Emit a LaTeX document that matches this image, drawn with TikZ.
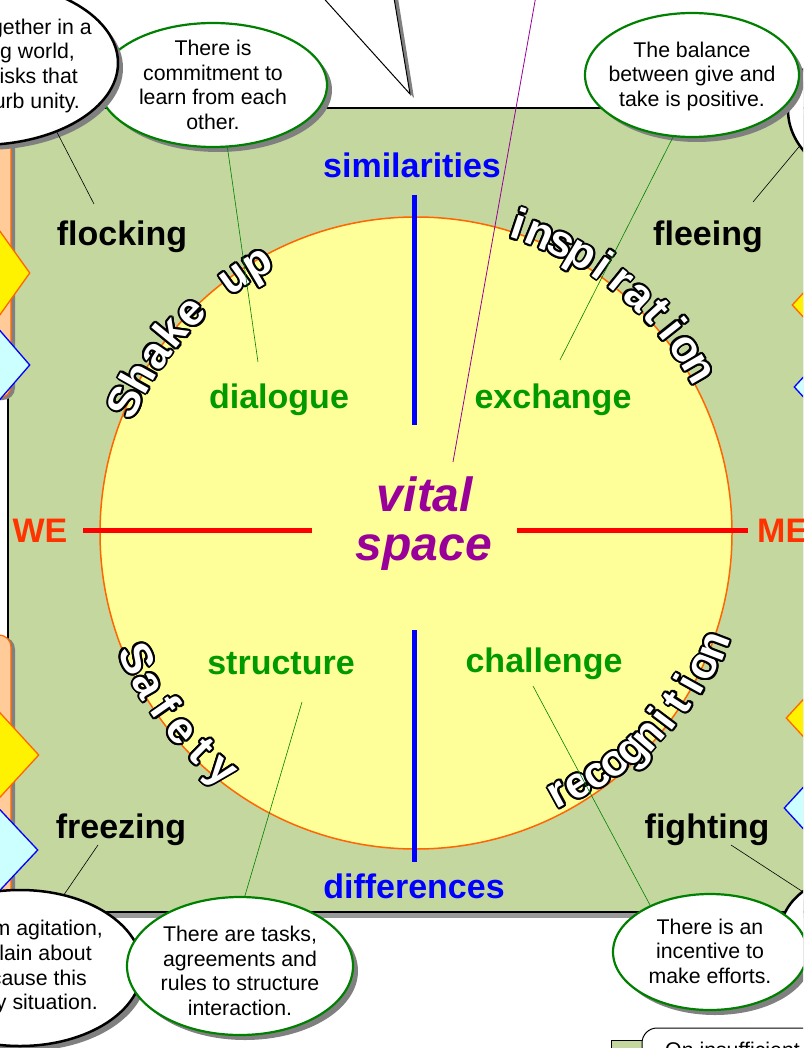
\documentclass[tikz,border=0pt]{standalone}
\usepackage{fontspec}
\setmainfont{Liberation Sans}
\usetikzlibrary{shapes.geometric,shadows,calc}
\definecolor{bggreen}{RGB}{196,215,158}
\definecolor{circfill}{RGB}{255,255,153}
\definecolor{orangeline}{RGB}{255,102,0}
\definecolor{tabfill}{RGB}{255,204,153}
\definecolor{diamblue}{RGB}{204,255,255}
\definecolor{txtgreen}{RGB}{0,153,0}
\definecolor{ellgreen}{RGB}{0,128,0}
\definecolor{wecolor}{RGB}{255,51,0}
\definecolor{vitalpurple}{RGB}{153,0,153}
\definecolor{shadowgray}{RGB}{128,128,128}

\newcommand\curvfont{\bfseries\fontsize{44}{44}\selectfont}
\newcommand\calltextfont{\fontsize{21.3}{24.5}\selectfont}
\newcommand\labelfont{\fontsize{34}{40}\selectfont\bfseries}

\newlength\arcLw
\newlength\arcTot
% #1 id, #2 start angle, #3 end angle, #4 start radius, #5 end radius, #6 comma list of letters
\newcommand\arcword[6]{%
  \global\arcTot=0pt
  \gdef\arcN{0}%
  \foreach \ch in {#6}{%
    \settowidth\arcLw{\curvfont\ch}%
    \global\advance\arcTot by \arcLw
    \xdef\arcN{\the\numexpr\arcN+1\relax}%
  }%
  \pgfmathsetmacro\arcR{(#4+#5)/2}%
  \pgfmathsetmacro\arcL{abs(#3-#2)*pi/180*\arcR}%
  \pgfmathsetmacro\arcGap{(\arcL-\arcTot)/(\arcN-1)}%
  \pgfmathsetmacro\arcSign{(#3>#2)?1:-1}%
  \pgfmathsetmacro\arcRot{(#3>#2)?90:-90}%
  \gdef\arcCum{0}%
  \foreach \ch [count=\ci] in {#6}{%
    \settowidth\arcLw{\curvfont\ch}%
    \pgfmathsetmacro\arcMid{\arcCum+\arcLw/2}%
    \pgfmathsetmacro\arcAng{#2+\arcSign*\arcMid/\arcR*180/pi}%
    \pgfmathsetmacro\arcRad{#4+(#5-#4)*\arcMid/\arcL}%
    \pgfmathsetmacro\arcNext{\arcCum+\arcLw+\arcGap}%
    \xdef\arcCum{\arcNext}%
    \foreach \dx/\dy [count=\di] in {2/0,-2/0,0/2,0/-2,1.41/1.41,1.41/-1.41,-1.41/1.41,-1.41/-1.41,1.85/0.77,1.85/-0.77,-1.85/0.77,-1.85/-0.77,0.77/1.85,0.77/-1.85,-0.77/1.85,-0.77/-1.85}{%
      \node[arcletter, text=black, rotate=\arcAng+\arcRot] (#1-\ci-o\di) at ($(C)+(\arcAng:\arcRad)+(\dx,\dy)$) {\ch};
    }%
    \node[arcletter, text=white, rotate=\arcAng+\arcRot] (#1-\ci) at ($(C)+(\arcAng:\arcRad)$) {\ch};
  }%
}

\tikzset{
  arcletter/.style={font=\curvfont, inner sep=0pt, anchor=base},
  shadowed/.style={drop shadow={shadow xshift=5pt,shadow yshift=-5pt,fill=shadowgray,opacity=1}},
  greenell/.style={ellipse, draw=ellgreen, line width=2.2pt, fill=white, inner sep=0pt, shadowed},
  blackell/.style={ellipse, draw=black, line width=2.5pt, fill=white, inner sep=0pt, shadowed},
  calltext/.style={font=\calltextfont, align=center, inner sep=0pt},
  fragtext/.style={font=\calltextfont, anchor=base east, inner sep=0pt},
  biglabel/.style={font=\labelfont, anchor=base, inner sep=0pt},
  blackconn/.style={draw=black, line width=0.6pt},
  greenconn/.style={draw=ellgreen, line width=0.6pt},
  axisblue/.style={draw=blue, line width=5pt},
  axisred/.style={draw=red, line width=5pt},
  tabbox/.style={fill=tabfill, draw=orangeline, line width=1.2pt, rounded corners=12pt, drop shadow={shadow xshift=4pt,shadow yshift=-2pt,fill=shadowgray,opacity=1}},
  ydiam/.style={diamond, inner sep=0pt, fill=yellow, draw=orangeline, line width=1.3pt},
  bdiam/.style={diamond, inner sep=0pt, fill=diamblue, draw=blue, line width=1.3pt},
}

\begin{document}
\begin{tikzpicture}[x=1pt,y=-1pt]
\useasboundingbox (0,0) rectangle (803,1048);
\clip (0,0) rectangle (803,1048);
\fill[white] (0,0) rectangle (803,1048);

% tail of the top callout
\fill[shadowgray] (322,-8) -- (414,98) -- (397,-8) -- cycle;
\draw[fill=white, line width=1pt] (318,-8) -- (410,94) -- (393,-8) -- cycle;

% main field
\path[fill=bggreen, draw=black, line width=1.2pt, drop shadow={shadow xshift=4pt, shadow yshift=-6pt, fill=shadowgray!80, opacity=1}] (8,108) rectangle (830,912);

% circle
\coordinate (C) at (416,533);
\node[circle, minimum size=632pt, fill=circfill, draw=orangeline, line width=1.5pt, inner sep=0pt] (circ) at (C) {};

% axes
\coordinate (vt1) at (414,195); \coordinate (vt2) at (414,425);
\coordinate (vb1) at (414,630); \coordinate (vb2) at (414,862);
\coordinate (hl1) at (83,530);  \coordinate (hl2) at (312,530);
\coordinate (hr1) at (517,530); \coordinate (hr2) at (748,530);
\draw[axisblue] (vt1) -- (vt2);
\draw[axisblue] (vb1) -- (vb2);
\draw[axisred] (hl1) -- (hl2);
\draw[axisred] (hr1) -- (hr2);

% labels
\node[biglabel, text=blue] (sim) at (412,178) {similarities};
\node[biglabel, text=blue] (dif) at (414,898) {differences};
\node[biglabel, text=wecolor] (we) at (40,542) {WE};
\node[biglabel, text=wecolor, anchor=base west] (me) at (757,542) {ME};
\node[biglabel] (flock) at (122,246) {flocking};
\node[biglabel] (flee) at (708,246) {fleeing};
\node[biglabel] (freeze) at (121,838) {freezing};
\node[biglabel] (fight) at (707,838) {fighting};
\node[biglabel, text=txtgreen] (dia) at (279,408) {dialogue};
\node[biglabel, text=txtgreen] (exc) at (553,408) {exchange};
\node[biglabel, text=txtgreen] (str) at (281,674) {structure};
\node[biglabel, text=txtgreen] (cha) at (544,672) {challenge};
\node[font=\fontsize{48}{49}\selectfont\bfseries\itshape, text=vitalpurple, anchor=base, inner sep=0pt] (vital) at (425,511) {vital};
\node[font=\fontsize{48}{49}\selectfont\bfseries\itshape, text=vitalpurple, anchor=base, inner sep=0pt] (space) at (424,560) {space};

% curved words
\begin{scope}[y=1pt]
\arcword{wsh}{155.7}{120.5}{304}{300}{S,h,a,k,e,\ ,u,p}
\arcword{win}{71.6}{30.2}{310}{314}{i,n,s,p,i,r,a,t,i,o,n}
\arcword{wsa}{204.2}{230.7}{321}{319}{S,a,f,e,t,y}
\arcword{wre}{-61.4}{-20.8}{310}{332}{r,e,c,o,g,n,i,t,i,o,n}
\end{scope}

% purple connector from the top callout
\coordinate (p1) at (537,-10);
\coordinate (p2) at (453,462);
\draw[draw=vitalpurple, line width=0.8pt] (p1) -- (p2);

% left tabs
\path[tabbox] (-40,90) rectangle (11,398);
\path[tabbox] (-40,635) rectangle (11,1100);
\node[ydiam, minimum width=90pt, minimum height=126pt] (yd1) at (-15,273) {};
\node[bdiam, minimum width=90pt, minimum height=104pt] (bd1) at (-15,365) {};
\node[ydiam, minimum width=90pt, minimum height=98pt] (yd2) at (-6,755) {};
\node[bdiam, minimum width=90pt, minimum height=96pt] (bd2) at (-7,850) {};
% right diamonds
\node[ydiam, minimum width=90pt, minimum height=98pt] (yd3) at (837,305) {};
\node[bdiam, minimum width=90pt, minimum height=98pt] (bd3) at (839,387) {};
\node[ydiam, minimum width=90pt, minimum height=98pt] (yd4) at (831,718) {};
\node[bdiam, minimum width=90pt, minimum height=98pt] (bd4) at (829,808) {};

% callout ellipses
\node[greenell, minimum width=228pt, minimum height=124pt] (E1) at (213,85) {};
\node[blackell, minimum width=276pt, minimum height=164pt] (B1) at (-20,63) {};
\node[blackell, minimum width=224pt, minimum height=160pt] (B2) at (900,110) {};
\node[greenell, minimum width=214pt, minimum height=124pt] (E2) at (692,75) {};
\node[blackell, minimum width=244pt, minimum height=156pt] (B3) at (20,968) {};
\node[greenell, minimum width=226pt, minimum height=138pt] (E3) at (240,966) {};
\node[blackell, minimum width=188pt, minimum height=120pt] (B4) at (875,930) {};
\node[greenell, minimum width=194pt, minimum height=116pt] (E4) at (710,952) {};

% callout texts
\node[calltext] (t1) at (213,85) {There is\\commitment to\\learn from each\\other.};
\node[calltext] (t2) at (692,76) {The balance\\between give and\\take is positive.};
\node[calltext] (t3) at (240,971) {There are tasks,\\agreements and\\rules to structure\\interaction.};
\node[calltext] (t4) at (710,951) {There is an\\incentive to\\make efforts.};
\node[fragtext] (b1a) at (92,35) {gether in a};
\node[fragtext] (b1b) at (75,59) {g world,};
\node[fragtext] (b1c) at (78,84) {isks that};
\node[fragtext] (b1d) at (80,109) {urb unity.};
\node[fragtext] (b3a) at (103,935) {m agitation,};
\node[fragtext] (b3b) at (92,960) {lain about};
\node[fragtext] (b3c) at (87,985) {cause this};
\node[fragtext] (b3d) at (98,1009) {y situation.};

% connectors
\coordinate (k1) at (94,204);
\coordinate (k2) at (753,202);
\coordinate (k3) at (98,845);
\coordinate (k4) at (731,845);
\coordinate (g1) at (258,362);
\coordinate (g2) at (560,360);
\coordinate (g3) at (302,702);
\coordinate (g4) at (533,686);
\draw[blackconn] (B1.-42) -- (k1);
\draw[blackconn] (B2.200) -- (k2);
\draw[blackconn] (B3.59) -- (k3);
\draw[blackconn] (B4.152) -- (k4);
\draw[greenconn] (E1.-77) -- (g1);
\draw[greenconn] (E2.-107) -- (g2);
\draw[greenconn] (E3.86) -- (g3);
\draw[greenconn] (E4.142) -- (g4);

% bottom right corner
\path[fill=bggreen, draw=black, line width=1pt] (611,1040) rectangle (660,1080);
\path[fill=white, draw=black, line width=1pt, rounded corners=15pt] (642,1080) -- (642,1028) -- (850,1028) -- (850,1080);
\node[font=\calltextfont, anchor=base west, inner sep=0pt] (oninsuf) at (665,1057) {On insufficient};
\end{tikzpicture}
\end{document}
